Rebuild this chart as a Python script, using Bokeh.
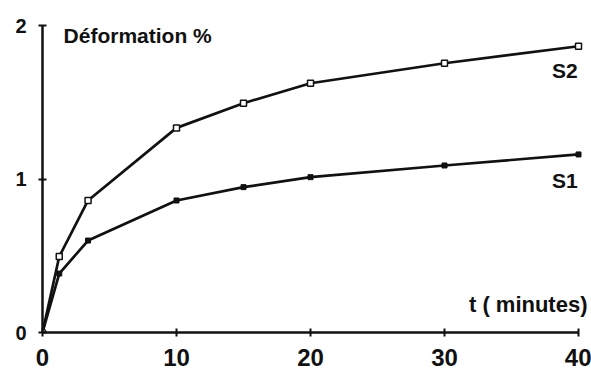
from bokeh.plotting import figure
from bokeh.models import Range1d, FixedTicker, Label
from bokeh.embed import file_html
from bokeh.resources import INLINE

# data
t_min = [0, 1.25, 3.4, 10, 15, 20, 30, 40]
s2 = [0, 0.495, 0.86, 1.333, 1.494, 1.624, 1.754, 1.865]
s1 = [0, 0.384, 0.599, 0.86, 0.947, 1.012, 1.088, 1.16]
x_ticks = [0, 10, 20, 30, 40]
y_ticks = [0, 1, 2]

INK = "#111111"
FONT = "Liberation Sans"

p = figure(width=591, height=376, output_backend="svg", toolbar_location=None,
           x_range=Range1d(0, 40.82), y_range=Range1d(0, 2),
           min_border_left=42, min_border_right=2, min_border_top=25, min_border_bottom=44)
p.outline_line_color = None
p.grid.visible = False
p.background_fill_color = "white"
p.border_fill_color = "white"

p.xaxis.ticker = FixedTicker(ticks=x_ticks)
p.yaxis.ticker = FixedTicker(ticks=y_ticks)
p.xaxis.bounds = (0, 40)
for ax in (p.xaxis[0], p.yaxis[0]):
    ax.axis_line_color = INK
    ax.axis_line_width = 2.5
    ax.major_tick_line_color = INK
    ax.major_tick_line_width = 2
    ax.major_tick_in = 4
    ax.major_tick_out = 4
    ax.minor_tick_line_color = None
    ax.major_label_text_font = FONT
    ax.major_label_text_font_style = "bold"
    ax.major_label_text_color = INK
p.xaxis.major_label_text_font_size = "24px"
p.xaxis.major_label_standoff = 12
p.yaxis.major_label_text_font_size = "20px"
p.yaxis.major_label_standoff = 12

p.line(t_min, s2, line_color=INK, line_width=2.7)
p.line(t_min, s1, line_color=INK, line_width=2.7)
p.scatter(t_min[1:], s1[1:], marker="square", size=5, fill_color=INK, line_color=INK)
p.scatter(t_min[1:], s2[1:], marker="square", size=6, fill_color="white", line_color=INK, line_width=1.5)
p.scatter(t_min[:1], s1[:1], marker="circle", size=7, fill_color="white", line_color=INK, line_width=1.5)

def lab(x, y, txt, align="left", size="20px"):
    p.add_layout(Label(x=x, y=y, text=txt, text_align=align, text_baseline="middle",
                       text_font=FONT, text_font_style="bold", text_font_size=size,
                       text_color=INK))

lab(1.57, 1.938, "Déformation  %", size="21px")
lab(40.67, 0.18, "t ( minutes)", align="right", size="22px")
lab(39.93, 1.704, "S2", align="right", size="21px")
lab(39.93, 0.987, "S1", align="right", size="21px")

open("out.html", "w").write(file_html(p, INLINE))
